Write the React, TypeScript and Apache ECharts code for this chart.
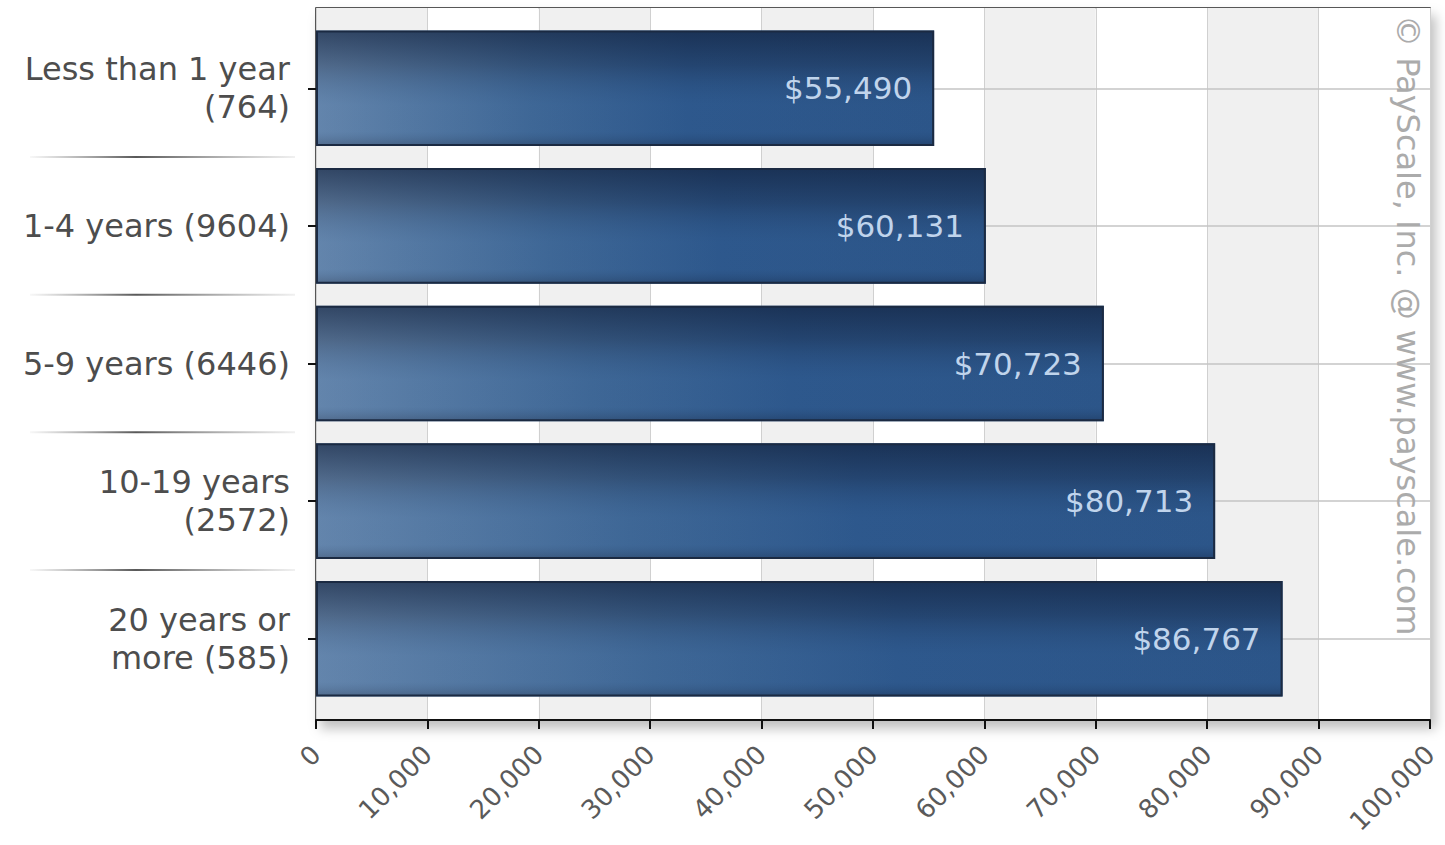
import React, { useEffect, useRef } from "react";
import * as echarts from "echarts";

const categories = [
  "Less than 1 year\n(764)",
  "1-4 years (9604)",
  "5-9 years (6446)",
  "10-19 years\n(2572)",
  "20 years or\nmore (585)",
];
const medianPay = [55490, 60131, 70723, 80713, 86767];
const xMin = 0;
const xMax = 100000;
const xInterval = 10000;
const watermark = "© PayScale, Inc. @ www.payscale.com";

const FONT = "DejaVu Sans, Verdana, sans-serif";

export default function App() {
  const ref = useRef<HTMLDivElement>(null);

  useEffect(() => {
    if (!ref.current) return;
    const chart = echarts.init(ref.current, undefined, { renderer: "svg" });

    const hGradient = new echarts.graphic.LinearGradient(0, 0, 1, 0, [
      { offset: 0, color: "#6a88ab" },
      { offset: 0.12, color: "#5b7ca2" },
      { offset: 0.35, color: "#406692" },
      { offset: 0.6, color: "#2d5587" },
      { offset: 1, color: "#2b5283" },
    ]);
    const vGradient = new echarts.graphic.LinearGradient(0, 0, 0, 1, [
      { offset: 0, color: "rgba(14,28,55,0.6)" },
      { offset: 0.3, color: "rgba(14,28,55,0.28)" },
      { offset: 0.65, color: "rgba(50,110,180,0.12)" },
      { offset: 0.88, color: "rgba(50,110,180,0.12)" },
      { offset: 1, color: "rgba(14,28,55,0.25)" },
    ]);

    chart.setOption({
      animation: false,
      backgroundColor: "#ffffff",
      grid: [
        {
          left: 316,
          right: 15,
          top: 8,
          bottom: 125,
          show: true,
          backgroundColor: "#ffffff",
          borderColor: "#222222",
          borderWidth: 1.5,
          shadowColor: "rgba(0,0,0,0.25)",
          shadowBlur: 12,
          shadowOffsetX: 5,
          shadowOffsetY: 8,
        },
        { left: 316, right: 15, top: 19.5, bottom: 137.5 },
      ],
      xAxis: [
        {
          gridIndex: 0,
          type: "value",
          min: xMin,
          max: xMax,
          interval: xInterval,
          splitArea: { show: true, areaStyle: { color: ["#f0f0f0", "#ffffff"] } },
          splitLine: { show: true, lineStyle: { color: "#d0d0d0", width: 1 } },
          axisLine: { show: true, lineStyle: { color: "#111111", width: 2 } },
          axisTick: { show: true, length: 9, lineStyle: { color: "#111111", width: 2 } },
          axisLabel: {
            rotate: 45,
            fontSize: 26,
            color: "#5a5a5a",
            fontFamily: FONT,
            margin: 30,
            showMaxLabel: true,
            formatter: (v: number) => v.toLocaleString("en-US"),
          },
        },
        { gridIndex: 1, type: "value", min: xMin, max: xMax, show: false },
      ],
      yAxis: [
        { gridIndex: 0, type: "value", show: false, min: 0, max: 1 },
        {
          gridIndex: 1,
          type: "category",
          data: categories,
          inverse: true,
          axisLine: { show: false },
          axisTick: {
            show: true,
            alignWithLabel: true,
            length: 8,
            lineStyle: { color: "#111111", width: 2 },
          },
          axisLabel: {
            fontSize: 32,
            lineHeight: 38,
            color: "#4d4d4d",
            fontFamily: FONT,
            align: "right",
            margin: 26,
          },
          splitLine: { show: false },
        },
      ],
      series: [
        {
          type: "bar",
          xAxisIndex: 1,
          yAxisIndex: 1,
          data: medianPay,
          barCategoryGap: "16%",
          z: 3,
          itemStyle: { color: hGradient },
          markLine: {
            silent: true,
            symbol: "none",
            z: 1,
            label: { show: false },
            lineStyle: { color: "#c4c4c4", width: 1.5, type: "solid" },
            data: categories.map((_, i) => ({ yAxis: i })),
          },
        },
        {
          type: "bar",
          xAxisIndex: 1,
          yAxisIndex: 1,
          data: medianPay,
          barGap: "-100%",
          barCategoryGap: "16%",
          z: 4,
          itemStyle: { color: vGradient, borderColor: "#1b2a42", borderWidth: 2 },
          label: {
            show: true,
            position: "insideRight",
            distance: 22,
            color: "#c0d4ec",
            fontSize: 31,
            fontFamily: FONT,
            formatter: (p: any) => "$" + Number(p.value).toLocaleString("en-US"),
          },
        },
      ],
    });

    const seps: any[] = [];
    for (let i = 0; i < categories.length - 1; i++) {
      const a = chart.convertToPixel({ yAxisIndex: 1 } as any, i) as unknown as number;
      const b = chart.convertToPixel({ yAxisIndex: 1 } as any, i + 1) as unknown as number;
      const y = (a + b) / 2;
      seps.push({
        type: "rect",
        shape: { x: 30, y: y - 1, width: 265, height: 2 },
        style: {
          fill: new echarts.graphic.LinearGradient(0, 0, 1, 0, [
            { offset: 0, color: "rgba(110,110,110,0.05)" },
            { offset: 0.4, color: "rgba(70,70,70,0.9)" },
            { offset: 1, color: "rgba(110,110,110,0.1)" },
          ]),
        },
        silent: true,
      });
    }

    chart.setOption({
      graphic: [
        {
          type: "text",
          x: 1408,
          y: 15,
          rotation: -Math.PI / 2,
          silent: true,
          z: 10,
          style: {
            text: watermark,
            fontSize: 32,
            fill: "#ababab",
            fontFamily: FONT,
            textAlign: "left",
            textVerticalAlign: "middle",
          },
        },
        ...seps,
      ],
    });

    return () => chart.dispose();
  }, []);

  return (
    <div
      ref={ref}
      style={{ position: "fixed", left: 0, top: 0, width: 1445, height: 845, background: "#fff" }}
    />
  );
}
